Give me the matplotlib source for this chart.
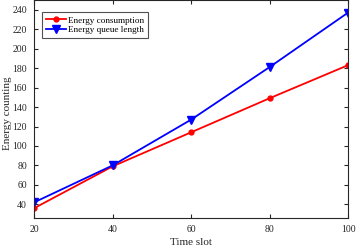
import matplotlib
matplotlib.use("Agg")
import matplotlib.pyplot as plt

slots = [20, 40, 60, 80, 100]
consumption = [36, 79, 114, 149, 183]
queue_len = [42, 80, 127, 181, 237]

plt.rcParams['font.family'] = ['Liberation Serif', 'DejaVu Serif']
fig = plt.figure(figsize=(3.57, 2.47), dpi=100)
ax = fig.add_axes([34/357, 29/247, 314/357, 218/247])

ax.plot(slots, consumption, color='red', lw=1.3, marker='o', ms=3.5, label='Energy consumption')
ax.plot(slots, queue_len, color='blue', lw=1.3, marker='v', ms=5.5, label='Energy queue length')

ax.set_xlim(20, 100)
ax.set_ylim(26, 250)
ax.set_xticks(slots)
ax.set_yticks(range(40, 241, 20))
ax.tick_params(direction='in', top=True, right=True, labelsize=7, colors='#262626', length=3)
ax.tick_params(axis='y', pad=5)
ax.tick_params(axis='x', pad=5)
for s in ax.spines.values():
    s.set_color('#262626')
    s.set_linewidth(0.8)
ax.set_xlabel('Time slot', fontsize=8, color='#262626', labelpad=3)
ax.set_ylabel('Energy counting', fontsize=8, color='#262626')
ax.yaxis.set_label_coords(-0.071, 0.48)
leg = ax.legend(loc='upper left', fontsize=6.6, frameon=True, fancybox=False, edgecolor='#262626',
                borderpad=0.45, handlelength=2.2, handletextpad=0.2, labelspacing=0.15,
                borderaxespad=0, bbox_to_anchor=(0.025, 0.945))
leg.get_frame().set_linewidth(0.8)

fig.savefig('out.png', dpi=100)
